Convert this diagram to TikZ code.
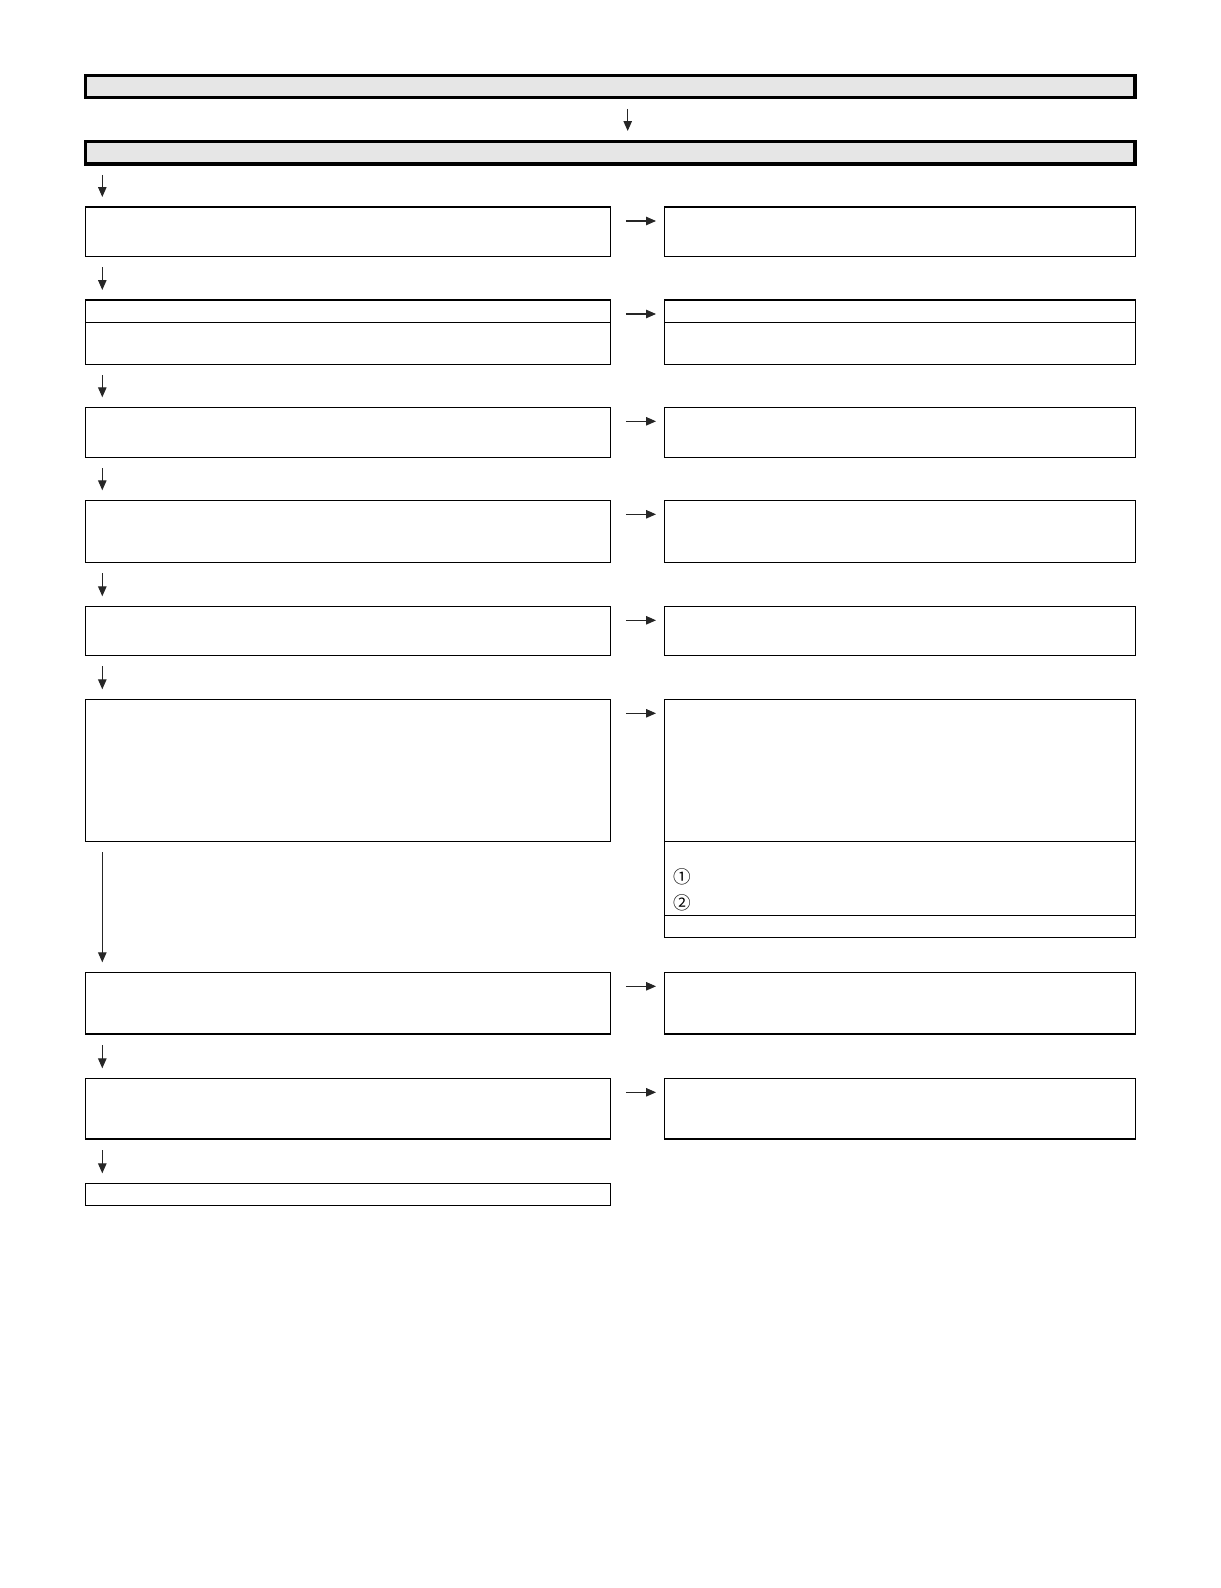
\documentclass[tikz,border=0pt]{standalone}
\usepackage{fontspec}
\usepackage{tikz}
\usetikzlibrary{fit}
\usetikzlibrary{arrows.meta}
\newfontfamily\cjk{Noto Sans CJK JP}
\definecolor{HG}{HTML}{E6E6E6}
\tikzset{
	BX/.style={draw,line width=0.75pt,inner sep=0pt,outer sep=0pt}
}
\tikzset{
	HB/.style={draw,line width=1.9pt,fill=HG,inner sep=0pt,outer sep=0pt}
}
\tikzset{
	AR/.style={line width=0.6pt,draw=black!85,-{Triangle[length=0.2cm,width=0.17cm]}}
}

\begin{document}
\begin{tikzpicture}[x=0.02cm,y=-0.02cm]
	\useasboundingbox (0,0) rectangle (1220,1588);
	\node[HB,fit={(85.7,75.7) (1135,97.7)}](T1){};
	\node[HB,fit={(85.7,141.7) (1135,164)}](T2){};
	\coordinate (ax) at (102.3,0);
	\coordinate (mx) at (627.7,0);
	% left column
	\node[BX,fit={(85.5,300) (610.5,322.3)}](L2a){};
	\foreach \n/\t/\b in {1/207/256.3,2/322.3/364.3,3/407.3/457.3,4/500.3/562.3,5/606.3/655.3,6/699.3/841.3,7/972.3/1034,8/1078.3/1139,9/1183.3/1205.3}{
		\node[BX,fit={(85.5,\t) (610.5,\b)}](L\n){};
	}
	% right column
	\node[BX,fit={(664.3,300) (1135.5,322.3)}](R2a){};
	\node[BX,fit={(664.3,841.3) (1135.5,915.3)}](R6b){};
	\node[BX,fit={(664.3,915.3) (1135.5,937.3)}](R6c){};
	\foreach \n/\t/\b in {1/207/256.3,2/322.3/364.3,3/407.3/457.3,4/500.3/562.3,5/606.3/655.3,6/699.3/841.3,7/972.3/1034,8/1078.3/1139}{
		\node[BX,fit={(664.3,\t) (1135.5,\b)}](R\n){};
	}
	\node[font=\cjk\fontsize{10}{12}\selectfont](c1) at (682,876.7) {①};
	\node[font=\cjk\fontsize{10}{12}\selectfont](c2) at (682,902.7) {②};
	% arrows
	\draw[AR,shorten <=0.226cm,shorten >=0.214cm] (T1.south -| mx) -- (T2.north -| mx);
	\foreach \a/\b in {T2/L1,L1/L2a,L2/L3,L3/L4,L4/L5,L5/L6,L6/L7,L7/L8,L8/L9}{
		\draw[AR,shorten <=0.22cm,shorten >=0.2cm] (\a.south -| ax) -- (\b.north -| ax);
	}
	\foreach \n in {1,2a,3,4,5,6,7,8}{
		\draw[AR,shorten <=0.306cm,shorten >=0.166cm] ([yshift=-0.28cm]L\n.north east) -- ([yshift=-0.28cm]R\n.north west);
	}
\end{tikzpicture}
\end{document}
